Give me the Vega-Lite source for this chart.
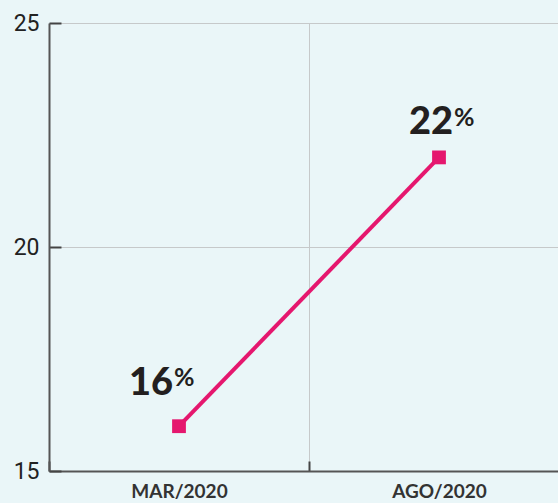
{
  "$schema": "https://vega.github.io/schema/vega-lite/v6.json",
  "width": 509,
  "height": 448,
  "autosize": {"type": "none"},
  "padding": {"left": 49, "top": 23, "right": 0, "bottom": 32},
  "background": "#EAF6F8",
  "config": {"view": {"stroke": null}},
  "data": {
    "values": [
      {"periodo": "MAR/2020", "valor": 16, "num": "16", "pct": "%"},
      {"periodo": "AGO/2020", "valor": 22, "num": "22", "pct": "%"}
    ]
  },
  "encoding": {
    "x": {
      "field": "periodo",
      "type": "nominal",
      "sort": null,
      "scale": {"type": "band", "range": [0, 520], "paddingInner": 0, "paddingOuter": 0},
      "axis": {
        "title": null,
        "labelAngle": 0,
        "tickBand": "extent",
        "grid": true,
        "gridColor": "#c6c9ca",
        "gridWidth": 1,
        "domainColor": "#555555",
        "domainWidth": 2,
        "ticks": true,
        "tickColor": "#444444",
        "tickWidth": 2,
        "tickSize": -10,
        "labelFont": "Lato",
        "labelFontSize": 19,
        "labelFontWeight": "bold",
        "labelColor": "#333333",
        "labelPadding": 21,
        "labelBaseline": "top"
      }
    },
    "y": {
      "field": "valor",
      "type": "quantitative",
      "scale": {"domain": [15, 25], "nice": false, "zero": false},
      "axis": {
        "title": null,
        "values": [15, 20, 25],
        "grid": true,
        "gridColor": "#c6c9ca",
        "gridWidth": 1,
        "domainColor": "#555555",
        "domainWidth": 2,
        "ticks": true,
        "tickColor": "#444444",
        "tickWidth": 2,
        "tickSize": -12,
        "labelFont": "Roboto",
        "labelFontSize": 23,
        "labelColor": "#222222",
        "labelPadding": 22
      }
    }
  },
  "layer": [
    {"mark": {"type": "line", "color": "#E5176E", "strokeWidth": 4}},
    {"mark": {"type": "point", "shape": "square", "filled": true, "opacity": 1, "size": 190, "color": "#E5176E"}},
    {
      "transform": [{"filter": "datum.periodo === 'MAR/2020'"}],
      "layer": [
        {"mark": {"type": "text", "align": "right", "baseline": "alphabetic", "dx": -6, "dy": -31, "font": "Lato", "fontSize": 38, "fontWeight": 900, "color": "#231F20"}, "encoding": {"text": {"field": "num"}}},
        {"mark": {"type": "text", "align": "left", "baseline": "alphabetic", "dx": -5, "dy": -40, "font": "Lato", "fontSize": 25, "fontWeight": "bold", "color": "#231F20"}, "encoding": {"text": {"field": "pct"}}}
      ]
    },
    {
      "transform": [{"filter": "datum.periodo === 'AGO/2020'"}],
      "layer": [
        {"mark": {"type": "text", "align": "right", "baseline": "alphabetic", "dx": 14, "dy": -23, "font": "Lato", "fontSize": 38, "fontWeight": 900, "color": "#231F20"}, "encoding": {"text": {"field": "num"}}},
        {"mark": {"type": "text", "align": "left", "baseline": "alphabetic", "dx": 15, "dy": -31, "font": "Lato", "fontSize": 25, "fontWeight": "bold", "color": "#231F20"}, "encoding": {"text": {"field": "pct"}}}
      ]
    }
  ]
}
